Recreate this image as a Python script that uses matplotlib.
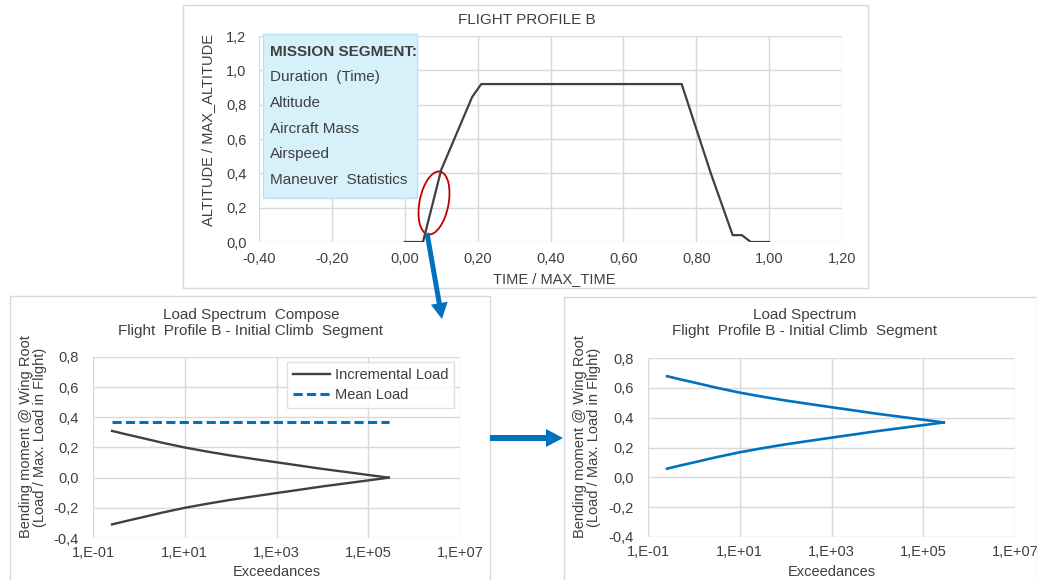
import numpy as np
import matplotlib
matplotlib.use("Agg")
import matplotlib.pyplot as plt
from matplotlib import font_manager
from matplotlib.patches import Rectangle, Ellipse, FancyArrow
from matplotlib.ticker import FixedLocator, FuncFormatter, NullLocator

W, H = 1037, 580

# Flight profile B, normalised time vs normalised altitude
time_frac = [0.00, 0.05, 0.10, 0.185, 0.21, 0.76, 0.84, 0.90, 0.925, 0.95, 1.00]
alt_frac = [0.00, 0.00, 0.42, 0.845, 0.92, 0.92, 0.40, 0.04, 0.04, 0.00, 0.00]
mission_items = ["Duration  (Time)", "Altitude", "Aircraft Mass", "Airspeed",
                 "Maneuver  Statistics"]

# Initial climb segment: wing root bending moment spectrum
exceedances = [0.26, 0.5, 1, 3.2, 10, 32, 100, 320, 1e3, 3.2e3, 1e4, 3.2e4, 1e5, 2.8e5]
incr_load = [0.310, 0.289, 0.268, 0.232, 0.200, 0.172, 0.147, 0.124, 0.102,
             0.080, 0.058, 0.038, 0.018, 0.0]
mean_load = [0.368] * len(exceedances)

x_log_ticks = [1e-1, 1e1, 1e3, 1e5, 1e7]
y_load_ticks = [-0.4, -0.2, 0.0, 0.2, 0.4, 0.6, 0.8]

DARK = "#404040"
BLUE = "#0070C0"
GRID = "#D9D9D9"
TXT = "#3F3F3F"

names = {f.name for f in font_manager.fontManager.ttflist}
SANS = "Liberation Sans" if "Liberation Sans" in names else "DejaVu Sans"
NARROW = "Liberation Sans Narrow" if "Liberation Sans Narrow" in names else SANS
plt.rcParams["font.family"] = [SANS, "DejaVu Sans"]


def box(l, t, r, b):
    return [l / W, 1 - b / H, (r - l) / W, (b - t) / H]


def fx(x, y):
    return x / W, 1 - y / H


def comma(fmt):
    return FuncFormatter(lambda v, p: fmt.format(round(v, 3) + 0.0).replace(".", ","))


def style(ax, fs=10.5):
    for s in ax.spines.values():
        s.set_visible(False)
    ax.grid(True, color=GRID, lw=1.0)
    ax.set_axisbelow(True)
    ax.tick_params(length=0, labelsize=fs, labelcolor=TXT)


fig = plt.figure(figsize=(W / 100, H / 100), dpi=100)

# ---- top: flight profile ----
ax0 = fig.add_axes(box(259, 36, 842, 242))
style(ax0)
ax0.plot(time_frac, alt_frac, color=DARK, lw=1.6, solid_joinstyle="round")
ax0.set_xlim(-0.4, 1.2)
ax0.set_ylim(0, 1.2)
ax0.xaxis.set_major_locator(FixedLocator(np.arange(-0.4, 1.21, 0.2)))
ax0.yaxis.set_major_locator(FixedLocator(np.arange(0, 1.21, 0.2)))
ax0.xaxis.set_major_formatter(comma("{:.2f}"))
ax0.yaxis.set_major_formatter(comma("{:.1f}"))
ax0.tick_params(axis="y", pad=9)
ax0.tick_params(axis="x", pad=7)
fig.text(*fx(527, 20), "FLIGHT PROFILE B", ha="center", va="center", fontsize=11, color=TXT)
fig.text(*fx(554, 279), "TIME / MAX_TIME", ha="center", va="center", fontsize=10.5, color=TXT)
fig.text(*fx(208, 130), "ALTITUDE / MAX_ALTITUDE", ha="center", va="center",
         rotation=90, fontsize=10.5, color=TXT)


def load_axes(rect, title, cx, lab_x):
    ax = fig.add_axes(box(*rect))
    style(ax)
    ax.set_xscale("log")
    ax.set_xlim(1e-1, 1e7)
    ax.set_ylim(-0.4, 0.8)
    ax.xaxis.set_major_locator(FixedLocator(x_log_ticks))
    ax.xaxis.set_minor_locator(NullLocator())
    ax.xaxis.set_major_formatter(FuncFormatter(
        lambda v, p: "1,E{:+03d}".format(int(round(np.log10(v))))))
    ax.yaxis.set_major_locator(FixedLocator(y_load_ticks))
    ax.yaxis.set_major_formatter(comma("{:.1f}"))
    ax.tick_params(axis="y", pad=10)
    ax.tick_params(axis="x", pad=6)
    fig.text(*fx(cx, 323), title, ha="center", va="center", fontsize=11,
             color=TXT, linespacing=1.25)
    fig.text(*fx((rect[0] + rect[2]) / 2, 572), "Exceedances", ha="center",
             va="center", fontsize=10.5, color=TXT)
    fig.text(*fx(lab_x, 437), "Bending moment @ Wing Root\n(Load / Max. Load in Flight)",
             ha="center", va="center", rotation=90, fontsize=10.5, color=TXT,
             linespacing=1.05)
    return ax


# ---- bottom left: incremental + mean ----
ax1 = load_axes((93, 357, 460, 538),
                "Load Spectrum  Compose\nFlight  Profile B - Initial Climb  Segment", 251, 33)
inc = np.array(incr_load)
ax1.plot(exceedances, inc, color=DARK, lw=1.7, label="Incremental Load")
ax1.plot(exceedances, -inc, color=DARK, lw=1.7)
ax1.plot(exceedances, mean_load, color=BLUE, lw=2.2, ls=(0, (3.0, 1.4)), label="Mean Load")
leg = ax1.legend(loc="upper right", bbox_to_anchor=(0.984, 0.972), fontsize=10.5,
                 frameon=True, fancybox=False, edgecolor=GRID, handlelength=2.6,
                 handletextpad=0.3, borderpad=0.4, labelspacing=0.45,
                 borderaxespad=0)
leg.get_frame().set_linewidth(1.0)
for t in leg.get_texts():
    t.set_color(TXT)

# ---- bottom right: combined spectrum ----
ax2 = load_axes((648, 358, 1015, 537),
                "Load Spectrum\nFlight  Profile B - Initial Climb  Segment", 805, 587)
mean = np.array(mean_load)
ax2.plot(exceedances, mean + inc, color=BLUE, lw=1.9)
ax2.plot(exceedances, mean - inc, color=BLUE, lw=1.9)

# ---- overlay: panel frames, info box, callouts ----
ov = fig.add_axes([0, 0, 1, 1], zorder=10)
ov.set_xlim(0, W)
ov.set_ylim(H, 0)
ov.axis("off")
for (l, t, r, b) in [(183, 5, 868, 288), (10, 296, 490, 582), (564, 297, 1037, 582)]:
    ov.add_patch(Rectangle((l, t), r - l, b - t, fill=False, ec=GRID, lw=1.0))

ov.add_patch(Rectangle((263, 34), 154, 164, fc="#D7F1FB", ec="#B7E2F3", lw=1.0))
ov.text(270, 52, "MISSION SEGMENT:", fontsize=11, fontweight="bold",
        family=[NARROW, "DejaVu Sans"], color=TXT, va="center")
for i, item in enumerate(mission_items):
    ov.text(270, 77 + i * 25.8, item, fontsize=11, family=[NARROW, "DejaVu Sans"],
            color=TXT, va="center")

ov.add_patch(Ellipse((434, 203), 29, 64, angle=11, fill=False, ec="#C00000", lw=1.3))
ov.add_patch(FancyArrow(427, 233, 15, 86, width=5, head_width=17, head_length=16,
                        length_includes_head=True, color=BLUE, lw=0))
ov.add_patch(FancyArrow(490, 438, 73, 0, width=6, head_width=18, head_length=17,
                        length_includes_head=True, color=BLUE, lw=0))

fig.savefig("out.png", dpi=100, facecolor="white")
